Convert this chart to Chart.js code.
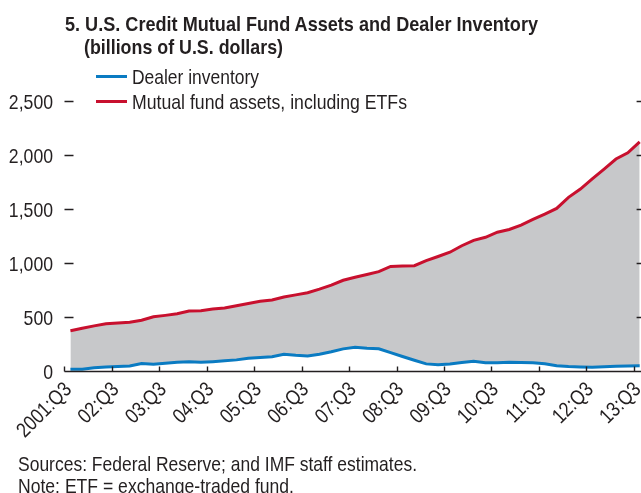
<!DOCTYPE html>
<html>
<head>
<meta charset="utf-8">
<script src="https://cdn.jsdelivr.net/npm/chart.js@4/dist/chart.umd.min.js"></script>
<style>
  html, body { margin: 0; padding: 0; background: #fff; width: 641px; height: 493px; overflow: hidden; }
  body { position: relative; font-family: "Liberation Sans", Arial, sans-serif; color: #231f20; }
  #c { position: absolute; left: 0; top: 0; }
  .t { position: absolute; white-space: nowrap; font-size: 21px; line-height: 21px; transform-origin: 0 0; }
  .title { font-weight: bold; }
  .sw { position: absolute; height: 3px; width: 31px; }
</style>
</head>
<body>
<canvas id="c" width="680" height="493"></canvas>
<div class="t title" data-w="473" style="left:65px; top:13px;">5. U.S. Credit Mutual Fund Assets and Dealer Inventory</div>
<div class="t title" data-w="199" style="left:84px; top:36px;">(billions of U.S. dollars)</div>
<div id="legend"></div>
<div class="t" data-w="399" style="left:18px; top:453px;">Sources: Federal Reserve; and IMF staff estimates.</div>
<div class="t" data-w="276" style="left:18px; top:475px;">Note: ETF = exchange-traded fund.</div>
<script>
const categories = [
  "2001:Q3","01:Q4",
  "02:Q1","02:Q2","02:Q3","02:Q4",
  "03:Q1","03:Q2","03:Q3","03:Q4",
  "04:Q1","04:Q2","04:Q3","04:Q4",
  "05:Q1","05:Q2","05:Q3","05:Q4",
  "06:Q1","06:Q2","06:Q3","06:Q4",
  "07:Q1","07:Q2","07:Q3","07:Q4",
  "08:Q1","08:Q2","08:Q3","08:Q4",
  "09:Q1","09:Q2","09:Q3","09:Q4",
  "10:Q1","10:Q2","10:Q3","10:Q4",
  "11:Q1","11:Q2","11:Q3","11:Q4",
  "12:Q1","12:Q2","12:Q3","12:Q4",
  "13:Q1","13:Q2","13:Q3"
];
const dealerInventory = [16,17,30,37,42,46,70,62,71,80,86,80,86,94,103,117,125,132,155,145,139,155,178,205,219,210,206,170,134,100,66,58,65,78,90,77,76,80,79,77,68,48,41,37,34,39,44,46,49];
const mutualFundAssets = [373,395,418,438,445,451,470,502,515,530,556,558,574,583,605,625,645,658,685,705,725,758,795,840,868,893,920,968,973,975,1022,1060,1100,1160,1210,1238,1285,1310,1350,1403,1453,1505,1608,1685,1778,1870,1963,2020,2122];
const yTicks = [0, 500, 1000, 1500, 2000, 2500];
const seriesNames = ["Dealer inventory", "Mutual fund assets, including ETFs"];
const seriesColors = ["#0a7bc2", "#c8102e"];
const fillColor = "#c7c8ca";
const textColor = "#231f20";
const LABEL_FONT = "21px 'Liberation Sans', Arial, sans-serif";
const SQUEEZE = 0.84;

// HTML legend built from the series names
const legendEl = document.getElementById('legend');
const legendTops = [66, 91];
const legendWidths = [127, 275];
seriesNames.forEach((name, i) => {
  const sw = document.createElement('div');
  sw.className = 'sw';
  sw.style.left = '96px';
  sw.style.top = (legendTops[i] + 9) + 'px';
  sw.style.background = seriesColors[i];
  legendEl.appendChild(sw);
  const tx = document.createElement('div');
  tx.className = 't';
  tx.style.left = '132px';
  tx.style.top = legendTops[i] + 'px';
  tx.dataset.w = legendWidths[i];
  tx.textContent = name;
  legendEl.appendChild(tx);
});

// condense HTML text horizontally (condensed face like the original)
document.querySelectorAll('.t[data-w]').forEach(el => {
  const natural = el.getBoundingClientRect().width;
  el.style.transform = 'scaleX(' + (parseFloat(el.dataset.w) / natural) + ')';
});

const axisDecor = {
  id: 'axisDecor',
  afterDatasetsDraw(chart) {
    const { ctx, chartArea: a, scales: { x, y } } = chart;
    ctx.save();
    ctx.strokeStyle = textColor;
    ctx.lineWidth = 1.4;
    yTicks.forEach(v => {
      if (v === 0) return;
      const py = Math.round(y.getPixelForValue(v)) + 0.5;
      ctx.beginPath();
      ctx.moveTo(a.left, py); ctx.lineTo(a.left + 9, py);
      ctx.moveTo(a.right - 9, py); ctx.lineTo(a.right, py);
      ctx.stroke();
    });
    const by = Math.round(y.getPixelForValue(0)) + 0.5;
    ctx.lineWidth = 1.6;
    ctx.beginPath();
    ctx.moveTo(a.left, by); ctx.lineTo(a.right, by);
    ctx.stroke();
    const half = (x.getPixelForValue(1) - x.getPixelForValue(0)) / 2;
    ctx.lineWidth = 1.4;
    categories.forEach((c, i) => {
      if (i % 4 !== 0) return;
      const px = Math.round(x.getPixelForValue(i) - half) + 0.5;
      ctx.beginPath();
      ctx.moveTo(px, by); ctx.lineTo(px, by - 5);
      ctx.stroke();
    });

    // tick labels (condensed)
    ctx.font = LABEL_FONT;
    ctx.fillStyle = textColor;
    ctx.textAlign = 'right';
    ctx.textBaseline = 'alphabetic';
    yTicks.forEach(v => {
      const py = y.getPixelForValue(v);
      ctx.save();
      ctx.translate(a.left - 11.5, py + 7.5);
      ctx.scale(SQUEEZE, 1);
      ctx.fillText(v.toLocaleString('en-US'), 0, 0);
      ctx.restore();
    });
    categories.forEach((c, i) => {
      if (i % 4 !== 0) return;
      const tx = x.getPixelForValue(i) - half - 2.5;
      ctx.save();
      ctx.translate(tx, by + 8.5);
      ctx.rotate(-Math.PI / 4);
      ctx.scale(SQUEEZE, 1);
      ctx.fillText(c, 0, 15);
      ctx.restore();
    });
    ctx.restore();
  }
};

new Chart(document.getElementById('c'), {
  type: 'line',
  data: {
    labels: categories,
    datasets: [
      {
        label: seriesNames[0],
        data: dealerInventory,
        borderColor: seriesColors[0],
        borderWidth: 3,
        pointRadius: 0,
        tension: 0,
        fill: false
      },
      {
        label: seriesNames[1],
        data: mutualFundAssets,
        borderColor: seriesColors[1],
        backgroundColor: fillColor,
        borderWidth: 3,
        pointRadius: 0,
        tension: 0,
        fill: { target: 0 }
      }
    ]
  },
  options: {
    responsive: false,
    animation: false,
    devicePixelRatio: 1,
    layout: { padding: { left: 0, right: 34.4, top: 101, bottom: 0 } },
    plugins: { legend: { display: false }, tooltip: { enabled: false } },
    scales: {
      x: {
        type: 'category',
        offset: true,
        grid: { display: false, drawTicks: false },
        border: { display: false },
        afterFit: (s) => { s.height = 122; },
        ticks: { display: false, autoSkip: false }
      },
      y: {
        min: 0,
        max: 2500,
        afterFit: (s) => { s.width = 64.5; },
        afterBuildTicks: (s) => { s.ticks = yTicks.map(v => ({ value: v })); },
        grid: { display: false, drawTicks: false },
        border: { display: false },
        ticks: { display: false }
      }
    }
  },
  plugins: [axisDecor]
});
</script>
</body>
</html>
